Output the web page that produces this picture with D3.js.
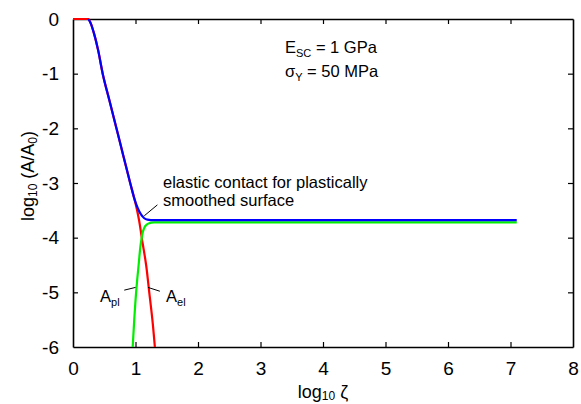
<!DOCTYPE html>
<html>
<head>
<meta charset="utf-8">
<script src="https://cdn.jsdelivr.net/npm/d3@7"></script>
<style>
  body { margin: 0; background: #fff; }
  text { font-family: "Liberation Sans", Arial, sans-serif; fill: #000; }
</style>
</head>
<body>
<div id="chart"></div>
<script>
var svgWidth = 581;
var svgHeight = 404;

var chartMargin = { top: 19, right: 8, bottom: 57, left: 73 };
var width = svgWidth - chartMargin.left - chartMargin.right;
var height = svgHeight - chartMargin.top - chartMargin.bottom;

// data: [log10 zeta, log10 (A/A0)]
var totalCurve = [[0.245, 0], [0.28, -0.07], [0.33, -0.24], [0.4, -0.56], [0.475, -1.0],
  [0.585, -1.5], [0.695, -2.0], [0.805, -2.5], [0.915, -3.0], [0.98, -3.28], [1.04, -3.47],
  [1.09, -3.58], [1.14, -3.645], [1.19, -3.67], [1.3, -3.68], [7.1, -3.68]];
var elasticCurve = [[0, 0], [0.245, 0], [0.28, -0.07], [0.33, -0.24], [0.4, -0.56], [0.475, -1.0],
  [0.585, -1.5], [0.695, -2.0], [0.805, -2.5], [0.915, -3.0], [0.98, -3.28], [1.02, -3.47],
  [1.06, -3.7], [1.1, -4.0], [1.17, -4.5], [1.22, -5.0], [1.27, -5.5], [1.31, -6.0]];
var plasticCurve = [[0.955, -6.0], [0.98, -5.5], [1.01, -5.0], [1.05, -4.5], [1.1, -4.0],
  [1.13, -3.85], [1.17, -3.77], [1.22, -3.735], [1.3, -3.72], [7.1, -3.72]];

var xTicks = [0, 1, 2, 3, 4, 5, 6, 7, 8];
var yTicks = [0, -1, -2, -3, -4, -5, -6];

var svg = d3.select("#chart")
  .append("svg")
  .attr("width", svgWidth)
  .attr("height", svgHeight);

var chartGroup = svg.append("g")
  .attr("transform", `translate(${chartMargin.left}, ${chartMargin.top})`);

var xScale = d3.scaleLinear().domain([0, 8]).range([0, width]);
var yScale = d3.scaleLinear().domain([-6, 0]).range([height, 0]);

// axes with inward ticks on all four sides
var plainFormat = d => String(d);
var bottomAxis = d3.axisBottom(xScale).tickValues(xTicks).tickSizeInner(-5).tickSizeOuter(0)
  .tickPadding(15).tickFormat(plainFormat);
var topAxis = d3.axisTop(xScale).tickValues(xTicks).tickSizeInner(-5).tickSizeOuter(0).tickFormat("");
var leftAxis = d3.axisLeft(yScale).tickValues(yTicks).tickSizeInner(-5).tickSizeOuter(0)
  .tickPadding(14).tickFormat(plainFormat);
var rightAxis = d3.axisRight(yScale).tickValues(yTicks).tickSizeInner(-5).tickSizeOuter(0).tickFormat("");

function styleAxis(g) {
  g.select(".domain").attr("stroke", "#000").attr("stroke-width", 1.6);
  g.selectAll(".tick line").attr("stroke", "#000").attr("stroke-width", 1.2);
  g.selectAll(".tick text").style("font-size", "19px").attr("fill", "#000");
}

chartGroup.append("g").attr("transform", `translate(0, ${height})`).call(bottomAxis).call(styleAxis);
chartGroup.append("g").call(topAxis).call(styleAxis);
chartGroup.append("g").call(leftAxis).call(styleAxis);
chartGroup.append("g").attr("transform", `translate(${width}, 0)`).call(rightAxis).call(styleAxis);

// the ticks at the ends sit on the frame, hide those
chartGroup.selectAll(".tick line").filter(function(d) { return d === 0 || d === 8 || d === -6; })
  .attr("stroke-opacity", 0);

var line = d3.line()
  .x(d => xScale(d[0]))
  .y(d => yScale(d[1]))
  .curve(d3.curveMonotoneX);

var lineY = d3.line()
  .x(d => xScale(d[0]))
  .y(d => yScale(d[1]))
  .curve(d3.curveMonotoneY);

svg.append("clipPath").attr("id", "plotclip")
  .append("rect").attr("x", 0).attr("y", -2).attr("width", width).attr("height", height + 2);

var plotArea = chartGroup.append("g").attr("clip-path", "url(#plotclip)");

plotArea.append("path").datum(elasticCurve)
  .attr("d", lineY).attr("fill", "none").attr("stroke", "#ff0000").attr("stroke-width", 2.2);
plotArea.append("path").datum(plasticCurve)
  .attr("d", lineY).attr("fill", "none").attr("stroke", "#00ee00").attr("stroke-width", 2.2);
plotArea.append("path").datum(totalCurve)
  .attr("d", line).attr("fill", "none").attr("stroke", "#0000ff").attr("stroke-width", 2.2);

// annotation pointers, in data units
var pointers = [
  [[1.14, -3.6], [1.35, -3.4]],
  [[0.82, -4.96], [1.0, -4.91]],
  [[1.2, -4.91], [1.39, -4.98]]
];
pointers.forEach(function(p) {
  chartGroup.append("line")
    .attr("x1", xScale(p[0][0])).attr("y1", yScale(p[0][1]))
    .attr("x2", xScale(p[1][0])).attr("y2", yScale(p[1][1]))
    .attr("stroke", "#000").attr("stroke-width", 1);
});

// labels
var notes = svg.append("g").style("font-size", "16.5px");
notes.append("text").attr("x", 163).attr("y", 188).text("elastic contact for plastically");
notes.append("text").attr("x", 163).attr("y", 206).text("smoothed surface");

var esc = notes.append("text").attr("x", 285).attr("y", 53);
esc.append("tspan").text("E");
esc.append("tspan").attr("dy", 4).style("font-size", "11px").text("SC");
esc.append("tspan").attr("dy", -4).text(" = 1 GPa");

var sig = notes.append("text").attr("x", 285).attr("y", 77);
sig.append("tspan").text("σ");
sig.append("tspan").attr("dy", 4).style("font-size", "11px").text("Y");
sig.append("tspan").attr("dy", -4).text(" = 50 MPa");

var apl = notes.append("text").attr("x", 100).attr("y", 302);
apl.append("tspan").text("A");
apl.append("tspan").attr("dy", 4).style("font-size", "11px").text("pl");

var ael = notes.append("text").attr("x", 166).attr("y", 302);
ael.append("tspan").text("A");
ael.append("tspan").attr("dy", 4).style("font-size", "11px").text("el");

// axis titles
var xLabel = svg.append("text")
  .attr("x", chartMargin.left + width / 2)
  .attr("y", 398)
  .attr("text-anchor", "middle")
  .style("font-size", "18px");
xLabel.append("tspan").text("log");
xLabel.append("tspan").attr("dy", 2).style("font-size", "12px").text("10");
xLabel.append("tspan").attr("dy", -2).text(" ζ");

var yLabel = svg.append("text")
  .attr("transform", "translate(34, 176) rotate(-90)")
  .attr("text-anchor", "middle")
  .style("font-size", "18px");
yLabel.append("tspan").text("log");
yLabel.append("tspan").attr("dy", 3).style("font-size", "12px").text("10");
yLabel.append("tspan").attr("dy", -3).text(" (A/A");
yLabel.append("tspan").attr("dy", 3).style("font-size", "12px").text("0");
yLabel.append("tspan").attr("dy", -3).text(")");
</script>
</body>
</html>
